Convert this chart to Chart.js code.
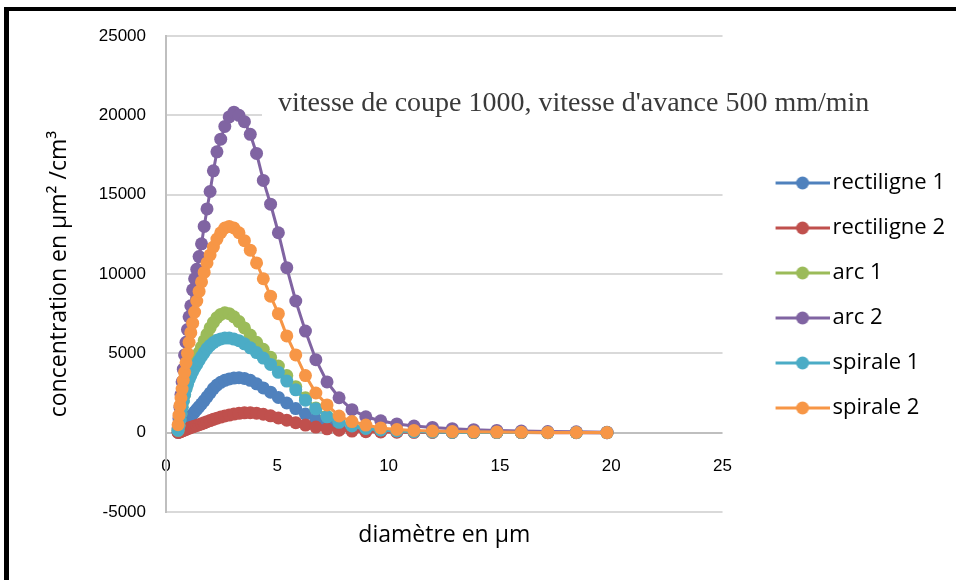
<!DOCTYPE html>
<html>
<head>
<meta charset="utf-8">
<title>Concentration</title>
<script src="https://cdn.jsdelivr.net/npm/chart.js@4.4.0/dist/chart.umd.min.js"></script>
<style>
  html, body { margin: 0; padding: 0; background: #fff; }
  #wrap { position: relative; width: 956px; height: 580px; overflow: hidden; }
  #chart { position: absolute; left: 0; top: 0; }
  #frame { position: absolute; left: 4px; top: 7px; width: 1000px; height: 1000px;
           border-left: 5px solid #000; border-top: 4px solid #000; pointer-events: none; }
</style>
</head>
<body>
<div id="wrap">
  <canvas id="chart" width="956" height="580"></canvas>
  <div id="frame"></div>
</div>
<script>
// diamètres (µm) des canaux du granulomètre
var diametres = [0.542, 0.583, 0.626, 0.673, 0.723, 0.777, 0.835, 0.898, 0.965, 1.037,
    1.114, 1.197, 1.286, 1.382, 1.486, 1.596, 1.715, 1.843, 1.981, 2.129,
    2.288, 2.458, 2.642, 2.839, 3.051, 3.278, 3.523, 3.786, 4.068, 4.371,
    4.698, 5.048, 5.425, 5.829, 6.264, 6.732, 7.234, 7.774, 8.354, 8.977,
    9.647, 10.37, 11.14, 11.97, 12.86, 13.82, 14.86, 15.96, 17.15, 18.43, 19.81];

var rectiligne1 = [20, 60, 120, 200, 290, 390, 500, 620, 750, 880,
    1020, 1160, 1310, 1470, 1640, 1820, 2020, 2250, 2500, 2780,
    3000, 3170, 3300, 3390, 3440, 3460, 3420, 3300, 3080, 2820,
    2550, 2220, 1870, 1520, 1170, 850, 570, 360, 220, 140,
    90, 60, 40, 28, 20, 14, 10, 7, 5, 3, 2];
var rectiligne2 = [10, 30, 55, 80, 110, 140, 170, 210, 250, 290,
    330, 370, 410, 450, 500, 560, 620, 690, 760, 840,
    910, 980, 1050, 1110, 1170, 1220, 1250, 1260, 1230, 1160,
    1060, 930, 790, 630, 480, 350, 240, 160, 100, 65,
    42, 28, 19, 13, 9, 6, 4, 3, 2, 1, 1];
var arc1 = [150, 450, 800, 1200, 1600, 2000, 2400, 2800, 3150, 3500,
    3850, 4150, 4450, 4750, 5050, 5400, 5800, 6200, 6600, 6950,
    7250, 7450, 7550, 7500, 7300, 7000, 6600, 6150, 5700, 5250,
    4750, 4200, 3600, 2900, 2200, 1550, 1050, 700, 450, 290,
    190, 120, 80, 55, 38, 26, 17, 11, 7, 5, 3];
var arc2 = [300, 900, 1600, 2400, 3200, 4000, 4900, 5700, 6500, 7300,
    8000, 9000, 9700, 10300, 11100, 11900, 13000, 14100, 15200, 16500,
    17700, 18500, 19300, 19900, 20200, 20000, 19600, 18800, 17600, 15900,
    14400, 12600, 10400, 8300, 6400, 4600, 3200, 2200, 1450, 1000,
    750, 550, 420, 330, 250, 190, 140, 100, 70, 50, 30];
var spirale1 = [150, 450, 800, 1200, 1600, 2000, 2400, 2750, 3050, 3350,
    3600, 3850, 4080, 4300, 4550, 4800, 5050, 5300, 5500, 5680,
    5820, 5910, 5960, 5960, 5900, 5800, 5600, 5350, 5050, 4700,
    4300, 3800, 3250, 2700, 2050, 1500, 1000, 650, 420, 270,
    170, 110, 70, 45, 30, 20, 14, 9, 6, 4, 3];
var spirale2 = [500, 1100, 1700, 2200, 2750, 3300, 3800, 4400, 5000, 5700,
    6300, 6900, 7600, 8300, 8900, 9500, 10100, 10700, 11200, 11700,
    12200, 12600, 12900, 13000, 12900, 12600, 12100, 11500, 10700, 9700,
    8600, 7500, 6100, 4900, 3600, 2500, 1750, 1050, 700, 480,
    300, 200, 140, 100, 70, 50, 35, 25, 15, 10, 5];

var noms = ['rectiligne 1', 'rectiligne 2', 'arc 1', 'arc 2', 'spirale 1', 'spirale 2'];
var series = [rectiligne1, rectiligne2, arc1, arc2, spirale1, spirale2];
var couleurs = ['#4F81BD', '#C0504D', '#9BBB59', '#8064A2', '#4BACC6', '#F79646'];
var titre = "vitesse de coupe 1000, vitesse d'avance 500 mm/min";

// icône trait + rond ; la partie gauche reste transparente pour décaler le trait
function iconeLegende(couleur) {
    var c = document.createElement('canvas');
    c.width = 92;
    c.height = 14;
    var g = c.getContext('2d');
    g.strokeStyle = couleur;
    g.lineWidth = 3;
    g.beginPath();
    g.moveTo(38, 7);
    g.lineTo(92, 7);
    g.stroke();
    g.fillStyle = couleur;
    g.beginPath();
    g.arc(65, 7, 6.5, 0, Math.PI * 2);
    g.fill();
    return c;
}

var datasets = series.map(function(valeurs, i) {
    return {
        label: noms[i],
        data: diametres.map(function(d, j) { return {x: d, y: valeurs[j]}; }),
        borderColor: couleurs[i],
        backgroundColor: couleurs[i],
        borderWidth: 3,
        pointRadius: 6.5,
        pointBorderWidth: 0,
        pointHoverRadius: 6.5,
        tension: 0,
        order: series.length - 1 - i
    };
});

// cadre blanc du titre posé dans la zone de tracé
var titreCadre = {
    id: 'titreCadre',
    beforeDatasetsDraw: function(chart) {
        var c = chart.ctx;
        c.save();
        c.fillStyle = '#fff';
        c.fillRect(262, 88, 620, 32);
        c.fillStyle = '#3a3a3a';
        c.font = '28px "Liberation Serif", "Times New Roman", serif';
        c.textBaseline = 'alphabetic';
        c.fillText(titre, 278, 111);
        c.restore();
    }
};

var police = '"Liberation Sans", Arial, sans-serif';

var ctx = document.getElementById('chart').getContext('2d');
var chart = new Chart(ctx, {
    type: 'line',
    data: { datasets: datasets },
    options: {
        responsive: false,
        animation: false,
        layout: { padding: { top: 36, right: 1, bottom: 25, left: 0 } },
        scales: {
            x: {
                type: 'linear',
                min: 0,
                max: 25,
                ticks: { stepSize: 5, mirror: true, padding: 35, color: '#000', font: { family: police, size: 17 } },
                grid: { display: false, drawTicks: false },
                border: { display: false },
                title: {
                    display: true,
                    text: 'diamètre en µm',
                    color: '#000',
                    font: { family: 'Open Sans', size: 23 },
                    padding: { top: 0, bottom: 6 }
                },
                afterFit: function(s) { s.height = 43; }
            },
            y: {
                min: -5000,
                max: 25000,
                ticks: {
                    stepSize: 5000,
                    padding: 20,
                    color: '#000',
                    font: { family: police, size: 17 },
                    callback: function(v) { return String(v); }
                },
                grid: {
                    drawTicks: false,
                    lineWidth: 2,
                    color: function(c) { return c.tick && c.tick.value === 0 ? '#BFBFBF' : '#D9D9D9'; }
                },
                border: { color: '#BFBFBF', width: 2 },
                title: {
                    display: true,
                    text: 'concentration en µm² /cm³',
                    color: '#000',
                    font: { family: 'Open Sans', size: 23 },
                    padding: { top: 46, bottom: 0 }
                },
                afterFit: function(s) { s.width = 166; }
            }
        },
        plugins: {
            legend: {
                position: 'right',
                align: 'center',
                labels: {
                    usePointStyle: true,
                    pointStyleWidth: 76,
                    padding: 23,
                    color: '#000',
                    font: { family: 'Open Sans', size: 22 },
                    generateLabels: function(chart) {
                        return chart.data.datasets.map(function(ds, i) {
                            return {
                                text: ds.label,
                                pointStyle: iconeLegende(ds.borderColor),
                                fillStyle: ds.borderColor,
                                strokeStyle: ds.borderColor,
                                lineWidth: 0,
                                hidden: false,
                                datasetIndex: i,
                                fontColor: '#000'
                            };
                        });
                    }
                }
            },
            tooltip: { enabled: false }
        }
    },
    plugins: [titreCadre]
});
</script>
</body>
</html>
